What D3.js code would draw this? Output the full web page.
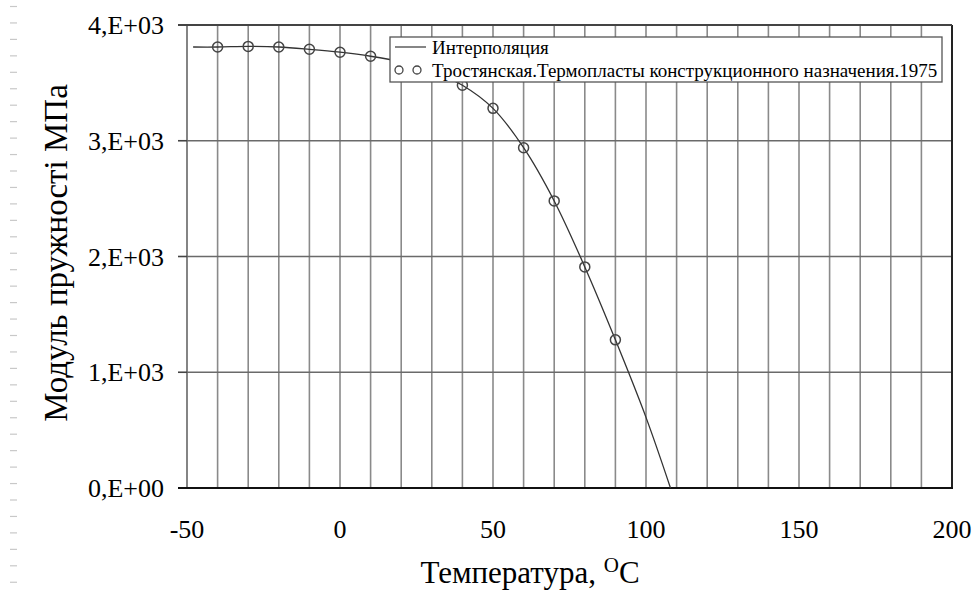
<!DOCTYPE html>
<html>
<head>
<meta charset="utf-8">
<script src="https://cdn.jsdelivr.net/npm/d3@7"></script>
<style>
  body { margin: 0; background: #fff; }
  svg { display: block; font-family: 'Liberation Serif', 'Times New Roman', serif; }
</style>
</head>
<body>
<div id="chart"></div>
<script>
// measured points
const temps   = [-40, -30, -20, -10, 0, 10, 20, 30, 40, 50, 60, 70, 80, 90]
const modulus = [3810, 3815, 3810, 3790, 3765, 3730, 3680, 3600, 3480, 3280, 2940, 2480, 1910, 1280]

// interpolation curve nodes
const interpT = [-48, -40, -30, -20, -10, 0, 10, 20, 30, 40, 50, 60, 70, 80, 90, 100, 108]
const interpE = [3810, 3810, 3815, 3810, 3790, 3765, 3730, 3680, 3600, 3480, 3280, 2940, 2480, 1910, 1280, 610, 0]

const xTicks = [-50, 0, 50, 100, 150, 200]
const yTicks = [0, 1000, 2000, 3000, 4000]
const yTickLabels = ['0,E+00', '1,E+03', '2,E+03', '3,E+03', '4,E+03']

const legendLabels = ['Интерполяция', 'Тростянская.Термопласты конструкционного назначения.1975']

const width  = 976
const height = 594
const margin = { top: 25, right: 24, bottom: 106, left: 187 }

const svg = d3.select('#chart')
  .append('svg')
  .attr('width', width)
  .attr('height', height)

// faint ruler dashes along the left edge
svg.append('g')
  .selectAll('line')
  .data(d3.range(36))
  .enter()
  .append('line')
    .attr('x1', 10).attr('x2', 17)
    .attr('y1', i => 6.5 + i * 16.45)
    .attr('y2', i => 6.5 + i * 16.45)
    .attr('stroke', '#c8c8c8')
    .attr('stroke-width', 1.2)

const x = d3.scaleLinear()
  .domain([-50, 200])
  .range([margin.left, width - margin.right])

const y = d3.scaleLinear()
  .domain([0, 4000])
  .range([height - margin.bottom, margin.top])

const grid = svg.append('g')

// vertical grid every 10 degrees
grid.selectAll('.vgrid')
  .data(d3.range(-40, 200, 10))
  .enter()
  .append('line')
    .attr('x1', d => x(d)).attr('x2', d => x(d))
    .attr('y1', y(4000)).attr('y2', y(0))
    .attr('stroke', '#8a8a8a')
    .attr('stroke-width', 1.6)

grid.selectAll('.hgrid')
  .data(yTicks.slice(1, -1))
  .enter()
  .append('line')
    .attr('x1', x(-50)).attr('x2', x(200))
    .attr('y1', d => y(d)).attr('y2', d => y(d))
    .attr('stroke', '#6a6a6a')
    .attr('stroke-width', 1.6)

// frame
svg.append('line')
  .attr('x1', x(-50)).attr('x2', x(-50))
  .attr('y1', y(4000)).attr('y2', y(0))
  .attr('stroke', '#666').attr('stroke-width', 1.6)
svg.append('line')
  .attr('x1', x(200)).attr('x2', x(200))
  .attr('y1', y(4000)).attr('y2', y(0))
  .attr('stroke', '#222').attr('stroke-width', 2)
svg.append('line')
  .attr('x1', x(-50) - 9).attr('x2', x(200))
  .attr('y1', y(4000)).attr('y2', y(4000))
  .attr('stroke', '#444').attr('stroke-width', 1.8)
svg.append('line')
  .attr('x1', x(-50) - 9).attr('x2', x(200) + 1)
  .attr('y1', y(0)).attr('y2', y(0))
  .attr('stroke', '#111').attr('stroke-width', 2)

// y axis ticks + labels
const yAxis = svg.append('g')
yAxis.selectAll('line')
  .data(yTicks.slice(1, -1))
  .enter()
  .append('line')
    .attr('x1', x(-50) - 9).attr('x2', x(-50))
    .attr('y1', d => y(d)).attr('y2', d => y(d))
    .attr('stroke', '#444').attr('stroke-width', 1.6)
yAxis.selectAll('text')
  .data(yTicks)
  .enter()
  .append('text')
    .attr('x', x(-50) - 23)
    .attr('y', d => y(d))
    .attr('dy', '.35em')
    .attr('text-anchor', 'end')
    .attr('font-size', '26px')
    .attr('fill', '#000')
    .text((d, i) => yTickLabels[i])

svg.append('g')
  .selectAll('text')
  .data(xTicks)
  .enter()
  .append('text')
    .attr('x', d => x(d))
    .attr('y', 538)
    .attr('text-anchor', 'middle')
    .attr('font-size', '26px')
    .attr('fill', '#000')
    .text(d => d)

// axis titles
svg.append('text')
  .attr('transform', 'translate(67, 253) rotate(-90)')
  .attr('text-anchor', 'middle')
  .attr('font-size', '33px')
  .attr('fill', '#000')
  .text('Модуль пружності МПа')

const xTitle = svg.append('text')
  .attr('x', 530)
  .attr('y', 583)
  .attr('text-anchor', 'middle')
  .attr('font-size', '31px')
  .attr('fill', '#000')
xTitle.append('tspan').text('Температура, ')
xTitle.append('tspan').attr('dy', -11).attr('font-size', '21px').text('O')
xTitle.append('tspan').attr('dy', 11).text('C')

// interpolation curve
const curve = interpT.map((t, i) => [t, interpE[i]])
svg.append('path')
  .datum(curve)
  .attr('fill', 'none')
  .attr('stroke', '#333')
  .attr('stroke-width', 1.3)
  .attr('d', d3.line()
    .x(d => x(d[0]))
    .y(d => y(d[1]))
    .curve(d3.curveCatmullRom))

// markers
svg.append('g')
  .selectAll('circle')
  .data(temps.map((t, i) => [t, modulus[i]]))
  .enter()
  .append('circle')
    .attr('cx', d => x(d[0]))
    .attr('cy', d => y(d[1]))
    .attr('r', 5)
    .attr('fill', 'none')
    .attr('stroke', '#444')
    .attr('stroke-width', 1.5)

// legend
const legend = svg.append('g').attr('transform', 'translate(390, 37)')
legend.append('rect')
  .attr('width', 552).attr('height', 45)
  .attr('fill', '#fff')
  .attr('stroke', '#555')
  .attr('stroke-width', 1.3)
legend.append('line')
  .attr('x1', 5).attr('x2', 36)
  .attr('y1', 10).attr('y2', 10)
  .attr('stroke', '#444').attr('stroke-width', 1.3)
legend.selectAll('circle')
  .data([9, 27])
  .enter()
  .append('circle')
    .attr('cx', d => d).attr('cy', 33)
    .attr('r', 4)
    .attr('fill', 'none')
    .attr('stroke', '#444')
    .attr('stroke-width', 1.3)
legend.selectAll('text')
  .data(legendLabels)
  .enter()
  .append('text')
    .attr('x', 42)
    .attr('y', (d, i) => 10 + i * 23)
    .attr('dy', '.35em')
    .attr('font-size', '19px')
    .attr('fill', '#000')
    .text(d => d)
</script>
</body>
</html>
